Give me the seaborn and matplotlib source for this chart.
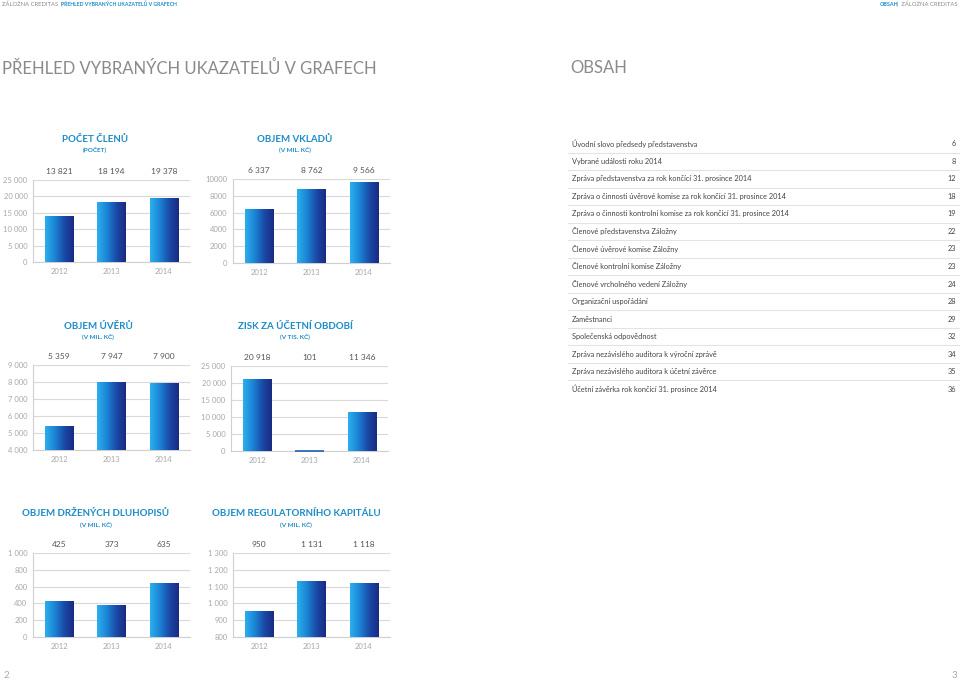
import numpy as np
import pandas as pd
import matplotlib
matplotlib.use("Agg")
import matplotlib.pyplot as plt
import seaborn as sns
from matplotlib.colors import LinearSegmentedColormap

# data
roky = ["2012", "2013", "2014"]

pocet_clenu = [13821, 18194, 19378]
objem_vkladu = [6337, 8762, 9566]
objem_uveru = [5359, 7947, 7900]
zisk = [20918, 101, 11346]
dluhopisy = [425, 373, 635]
kapital = [950, 1131, 1118]

toc_polozky = [
    "Úvodní slovo předsedy představenstva",
    "Vybrané události roku 2014",
    "Zpráva představenstva za rok končící 31. prosince 2014",
    "Zpráva o činnosti úvěrové komise za rok končící 31. prosince 2014",
    "Zpráva o činnosti kontrolní komise za rok končící 31. prosince 2014",
    "Členové představenstva Záložny",
    "Členové úvěrové komise Záložny",
    "Členové kontrolní komise Záložny",
    "Členové vrcholného vedení Záložny",
    "Organizační uspořádání",
    "Zaměstnanci",
    "Společenská odpovědnost",
    "Zpráva nezávislého auditora k výroční zprávě",
    "Zpráva nezávislého auditora k účetní závěrce",
    "Účetní závěrka rok končící 31. prosince 2014",
]
toc_strany = ["6", "8", "12", "18", "19", "22", "23", "23", "24", "28", "29", "32", "34", "35", "36"]

W, H = 960, 680
BLUE = "#1a8cca"
GRAY = "#8a8a8a"
LGRAY = "#a8a8a8"

sns.set_theme(style="white")
plt.rcParams["font.family"] = ["Lato", "DejaVu Sans"]

fig = plt.figure(figsize=(W / 100, H / 100), dpi=100)

grad = LinearSegmentedColormap.from_list("bar", ["#2bb0ee", "#1c86d6", "#1a4aa8", "#1a2a82"])
grad_img = np.linspace(0, 1, 256).reshape(1, -1)


def px_rect(left, top, right, bottom):
    return [left / W, 1 - bottom / H, (right - left) / W, (bottom - top) / H]


def fmt(v, sep=True):
    s = f"{int(v):,}"
    return s.replace(",", " ") if sep else s.replace(",", "")


def bar_chart(rect, values, ylim, step, title, subtitle, title_x, title_y, sep=True):
    ax = fig.add_axes(px_rect(*rect))
    df = pd.DataFrame({"rok": roky, "hodnota": values})
    sns.barplot(data=df, x="rok", y="hodnota", ax=ax, width=0.54, color="#1c5fb8", zorder=2)
    ax.set_ylim(*ylim)
    ax.set_xlim(-0.5, 2.5)
    ticks = np.arange(ylim[0], ylim[1] + step / 2, step)
    ax.set_yticks(ticks)
    ax.set_yticklabels([fmt(t, sep) for t in ticks])
    ax.yaxis.grid(True, color="#d9d9d9", lw=0.8, zorder=0)
    ax.set_axisbelow(True)
    ax.set_xlabel("")
    ax.set_ylabel("")
    for s in ["top", "right"]:
        ax.spines[s].set_visible(False)
    for s in ["left", "bottom"]:
        ax.spines[s].set_color("#d0d0d0")
        ax.spines[s].set_linewidth(0.8)
    ax.tick_params(axis="both", length=0, labelsize=5.5, labelcolor=LGRAY, pad=4)

    # gradient fill over each bar, kept inside the visible range
    for p in ax.patches:
        x0, y0 = p.get_x(), p.get_y()
        x1, y1 = x0 + p.get_width(), y0 + p.get_height()
        y0c, y1c = max(y0, ylim[0]), min(y1, ylim[1])
        if (y1 - y0) < 0.01 * (ylim[1] - ylim[0]):
            # tiny bar - leave a thin line visible
            p.set_edgecolor("#1c5fb8")
            p.set_linewidth(1.2)
            p.set_zorder(4)
            p.set_clip_on(False)
            continue
        p.set_facecolor("none")
        p.set_edgecolor("none")
        if y1c > y0c:
            ax.imshow(grad_img, cmap=grad, aspect="auto", extent=[x0, x1, y0c, y1c],
                      zorder=3, interpolation="bicubic")
    ax.set_xlim(-0.5, 2.5)
    ax.set_ylim(*ylim)

    # value labels above plot
    for i, v in enumerate(values):
        ax.text(i, 1.06, fmt(v), transform=ax.get_xaxis_transform(), ha="center", va="bottom",
                fontsize=6, color="#555555")

    fig.text(title_x / W, 1 - title_y / H, title, ha="center", va="center",
             fontsize=7, fontweight="bold", color=BLUE)
    fig.text(title_x / W, 1 - (title_y + 10) / H, subtitle, ha="center", va="center",
             fontsize=4.6, fontweight="bold", color=BLUE)
    return ax


bar_chart((33, 180, 190, 262), pocet_clenu, (0, 25000), 5000, "POČET ČLENŮ", "(POČET)", 95, 139)
bar_chart((233, 179, 390, 263), objem_vkladu, (0, 10000), 2000, "OBJEM VKLADŮ", "(V MIL. KČ)", 295, 139, sep=False)
bar_chart((33, 365, 190, 450), objem_uveru, (4000, 9000), 1000, "OBJEM ÚVĚRŮ", "(V MIL. KČ)", 98, 326)
bar_chart((231, 366, 388, 451), zisk, (0, 25000), 5000, "ZISK ZA ÚČETNÍ OBDOBÍ", "(V TIS. KČ)", 295, 326)
bar_chart((33, 553, 190, 637), dluhopisy, (0, 1000), 200, "OBJEM DRŽENÝCH DLUHOPISŮ", "(V MIL. KČ)", 96, 514)
bar_chart((233, 553, 390, 637), kapital, (800, 1300), 100, "OBJEM REGULATORNÍHO KAPITÁLU", "(V MIL. KČ)", 296, 514)

# header
fig.text(2 / W, 1 - 4 / H, "ZÁLOŽNA CREDITAS  |", ha="left", va="center", fontsize=4.2, color=GRAY)
fig.text(61 / W, 1 - 4 / H, "PŘEHLED VYBRANÝCH UKAZATELŮ V GRAFECH", ha="left", va="center",
         fontsize=3.7, fontweight="bold", color=BLUE)
fig.text(898 / W, 1 - 4 / H, "OBSAH", ha="right", va="center", fontsize=3.9, fontweight="bold", color=BLUE)
fig.text(958 / W, 1 - 4 / H, "|  ZÁLOŽNA CREDITAS", ha="right", va="center", fontsize=4.2, color=GRAY)

fig.text(2 / W, 1 - 68 / H, "PŘEHLED VYBRANÝCH UKAZATELŮ V GRAFECH", ha="left", va="center",
         fontsize=12, color=GRAY)
fig.text(570 / W, 1 - 68 / H, "OBSAH", ha="left", va="center", fontsize=12, color=GRAY)

# table of contents
toc = fig.add_axes(px_rect(568, 135, 960, 398))
toc.set_xlim(0, 1)
toc.set_ylim(len(toc_polozky), 0)
toc.axis("off")
for i, (nazev, strana) in enumerate(zip(toc_polozky, toc_strany)):
    toc.text(0.01, i + 0.5, nazev, ha="left", va="center", fontsize=5.3, color="#444444")
    toc.text(0.99, i + 0.5, strana, ha="right", va="center", fontsize=5.3, color="#444444")
    toc.axhline(i + 1, color="#e3e3e3", lw=0.8)

# page numbers
fig.text(3 / W, 1 - 675 / H, "2", ha="left", va="center", fontsize=7, color=LGRAY)
fig.text(957 / W, 1 - 675 / H, "3", ha="right", va="center", fontsize=7, color=LGRAY)

fig.savefig("out.png", dpi=100, facecolor="white")
